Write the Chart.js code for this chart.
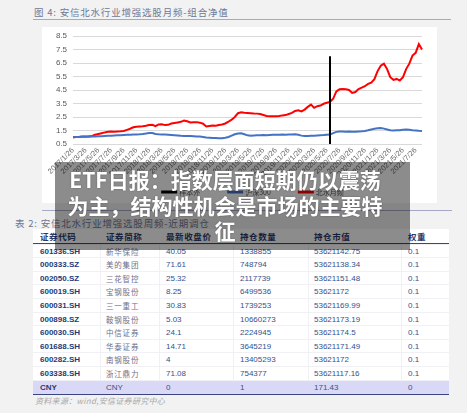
<!DOCTYPE html>
<html><head><meta charset="utf-8">
<script src="https://cdn.jsdelivr.net/npm/chart.js@4.4.1/dist/chart.umd.min.js"></script>
<style>
html,body{margin:0;padding:0;}
body{width:467px;height:413px;overflow:hidden;background:#f2f2f2;position:relative;font-family:"Noto Sans CJK SC","Liberation Sans",sans-serif;}
.abs{position:absolute;}
.cap{font-size:9.5px;letter-spacing:0.8px;color:#6f7895;white-space:nowrap;line-height:12px;}
.rule{height:1px;background:#a6a8c6;}
#card{left:42px;top:27px;width:395px;height:176px;background:#fff;}
#tbl{left:33px;top:229px;width:416px;height:164px;background:#fff;}
.row{position:absolute;left:0;width:416px;}
.row span{position:absolute;top:0;white-space:nowrap;}
.hd{top:0;height:14px;line-height:14px;border-bottom:1px solid #3b4680;}
.hd span{font-size:8.5px;font-weight:bold;color:#2c3a6c;letter-spacing:0.6px;}
.dr{height:13.6px;line-height:13.6px;border-top:1px solid #f0f0f5;box-sizing:border-box;font-family:"Liberation Sans",Arial,sans-serif;font-size:8px;color:#34508c;}
.dr .c{font-weight:bold;color:#223b78;}
.dr .n{font-family:"Noto Sans CJK SC",sans-serif;font-size:7.5px;color:#6f6f88;letter-spacing:0.8px;}
.dr.cny{background:#d9d9f7;border-bottom:1.5px solid #3b4680;height:15px;}
.vl{position:absolute;top:15px;width:1px;height:149px;background:#f0f0f5;}
#src{left:35px;top:395px;font-size:8px;font-style:italic;color:#a8a8a8;letter-spacing:0.3px;white-space:nowrap;}
#ov{left:55px;top:162px;width:355px;height:88px;background:rgba(0,0,0,0.45);}
#ovt{left:64px;top:167px;width:322px;text-align:center;font-family:"Noto Sans CJK SC",sans-serif;font-weight:bold;font-size:21px;line-height:25.5px;color:#fff;text-shadow:0 0 2px rgba(0,0,0,0.35);}
</style></head>
<body>
<div class="abs cap" style="left:34px;top:6px;">图 4: 安信北水行业增强选股月频-组合净值</div>
<div class="abs rule" style="left:33px;top:19px;width:418px;"></div>
<div id="card" class="abs"><canvas id="c" width="395" height="176"></canvas></div>
<div class="abs rule" style="left:42px;top:210px;width:410px;"></div>
<div class="abs cap" style="left:15px;top:217px;">表 2: 安信北水行业增强选股周频-近期调仓</div>
<div id="tbl" class="abs"></div>
<div id="src" class="abs">资料来源：wind,安信证券研究中心</div>
<div id="ov" class="abs"></div>
<div id="ovt" class="abs">ETF日报：指数层面短期仍以震荡为主，结构性机会是市场的主要特征</div>
<script>
// ---- chart data ----
const tickLabels = ['2017/1/26','2017/3/26','2017/5/26','2017/7/26','2017/9/26','2017/11/26',
 '2018/1/26','2018/3/26','2018/5/26','2018/7/26','2018/9/26','2018/11/26',
 '2019/1/26','2019/3/26','2019/5/26','2019/7/26','2019/9/26','2019/11/26',
 '2020/1/26','2020/3/26','2020/5/26','2020/7/26','2020/9/26','2020/11/26',
 '2021/1/26','2021/3/26','2021/5/26','2021/7/26'];
const seriesNames = ['样本外','沪深300','北水月频'];
// half-monthly readings (26th and 11th of each month), from 2017/1/26 to 2021/8/26
const redValues = [
 1.00,1.02,1.03,1.05,1.05,1.07,1.10,1.18,1.24,1.30,
 1.36,1.40,1.42,1.41,1.43,1.44,1.47,1.55,1.63,1.74,
 1.78,1.80,1.82,1.85,1.90,1.92,1.82,1.95,1.96,1.90,
 1.92,2.02,2.06,2.10,2.14,2.24,2.18,2.10,2.12,2.12,
 2.08,2.00,1.80,1.84,1.87,1.85,1.90,1.95,2.02,2.15,
 2.30,2.50,2.78,2.85,2.82,2.80,2.78,2.76,2.75,2.72,
 2.65,2.58,2.55,2.56,2.55,2.58,2.62,2.64,2.72,2.80,
 2.95,3.00,2.92,3.05,3.25,3.42,3.18,3.30,3.35,3.48,
 3.55,3.62,3.85,4.40,4.55,4.58,4.55,4.50,4.28,4.35,
 4.57,4.68,4.78,4.95,5.05,5.30,5.90,6.30,6.45,6.05,
 5.45,5.25,5.32,5.20,5.45,6.05,6.45,7.05,7.25,7.90,7.50];
const blueValues = [
 1.00,1.01,1.02,1.03,1.03,1.04,1.05,1.06,1.07,1.08,
 1.10,1.11,1.12,1.13,1.14,1.15,1.17,1.18,1.19,1.20,
 1.21,1.22,1.24,1.27,1.31,1.32,1.24,1.22,1.21,1.20,
 1.19,1.17,1.15,1.13,1.11,1.10,1.10,1.09,1.08,1.06,
 1.05,1.02,0.98,0.97,0.95,0.94,0.93,0.92,0.96,1.02,
 1.12,1.22,1.28,1.30,1.22,1.14,1.12,1.13,1.14,1.15,
 1.16,1.15,1.17,1.18,1.18,1.19,1.20,1.19,1.20,1.21,
 1.22,1.18,1.12,1.10,1.10,1.12,1.11,1.13,1.15,1.16,
 1.18,1.20,1.30,1.40,1.43,1.42,1.41,1.42,1.41,1.40,
 1.42,1.44,1.47,1.52,1.58,1.63,1.66,1.68,1.64,1.58,
 1.52,1.50,1.51,1.52,1.56,1.58,1.55,1.52,1.50,1.48,1.47];
const outSampleDate = '2020/6/11';
const outSampleValues = [0.5, 7.0];

// ---- table data ----
const codes = ['601336.SH','000333.SZ','002050.SZ','600019.SH','600031.SH','000898.SZ','600030.SH','601688.SH','600282.SH','603338.SH','CNY'];
const names = ['新华保险','美的集团','三花智控','宝钢股份','三一重工','鞍钢股份','中信证券','华泰证券','南钢股份','浙江鼎力','CNY'];
const prices = ['40.05','71.61','25.32','8.25','30.83','5.03','24.1','14.71','4','71.08','0'];
const holdings = ['1338855','748794','2117739','6499536','1739253','10660273','2224945','3645219','13405293','754377','1'];
const mktValues = ['53621142.75','53621138.34','53621151.48','53621172','53621169.99','53621173.19','53621174.5','53621171.49','53621172','53621117.16','171.43'];
const weights = ['0.1','0.1','0.1','0.1','0.1','0.1','0.1','0.1','0.1','0.1','0'];
const headers = ['证券代码','证券简称','最新收盘价','持仓数量','持仓市值','权重'];

// build table (layout only)
(function(){
  const tb = document.getElementById('tbl');
  const colX = [7,73,133,207,281,375];
  const borders = [67,126,200,275,368];
  let h = '';
  borders.forEach(b=>{ h += '<div class="vl" style="left:'+b+'px"></div>'; });
  h += '<div class="row hd">' + headers.map((t,i)=>'<span style="left:'+colX[i]+'px">'+t+'</span>').join('') + '</div>';
  for (let i=0;i<codes.length;i++){
    const cny = codes[i]==='CNY';
    const cells = [codes[i], names[i], prices[i], holdings[i], mktValues[i], weights[i]];
    const cls = ['c', cny?'':'n', '', '', '', ''];
    h += '<div class="row dr'+(cny?' cny':'')+'" style="top:'+(14.5+13.6*i).toFixed(1)+'px">'
      + cells.map((t,k)=>'<span class="'+cls[k]+'" style="left:'+colX[k]+'px">'+t+'</span>').join('') + '</div>';
  }
  tb.innerHTML = h;
})();

// categories: 26th and 11th of each month
const categories = [];
for (let i=0;i<redValues.length;i++){
  const m = Math.floor(i/2) + (i%2);
  const y = 2017 + Math.floor(m/12);
  const mo = (m%12)+1;
  categories.push(y+'/'+mo+'/'+(i%2? '11':'26'));
}

// bottom legend drawn below the axis labels
const bottomLegend = {
  id:'bottomLegend',
  afterDraw(chart){
    const ctx = chart.ctx;
    ctx.save();
    ctx.font = '7px "Noto Sans CJK SC"';
    ctx.textBaseline = 'middle';
    const seg = 16, gap = 2, sp = 27;
    const ds = chart.data.datasets;
    const widths = ds.map(d => seg + gap + ctx.measureText(d.label).width);
    const total = widths.reduce((a,b)=>a+b,0) + sp*(ds.length-1);
    let x = (chart.chartArea.left + chart.chartArea.right)/2 + 5 - total/2;
    const y = chart.chartArea.bottom + 48;
    ds.forEach((d,i)=>{
      ctx.strokeStyle = d.borderColor; ctx.lineWidth = 3;
      ctx.beginPath(); ctx.moveTo(x, y); ctx.lineTo(x+seg, y); ctx.stroke();
      ctx.fillStyle = '#595959';
      ctx.fillText(d.label, x+seg+gap, y);
      x += widths[i] + sp;
    });
    ctx.restore();
  }
};

const tickFont = {family:'Liberation Sans', size:7.5};
new Chart(document.getElementById('c'), {
  type:'line',
  data:{
    labels: categories,
    datasets:[
      {label:seriesNames[0], data: outSampleValues.map(v=>({x:outSampleDate,y:v})), borderColor:'#000', backgroundColor:'#000', borderWidth:2, pointRadius:0},
      {label:seriesNames[1], data: blueValues, borderColor:'#4472c4', backgroundColor:'#4472c4', borderWidth:2, pointRadius:0, tension:0},
      {label:seriesNames[2], data: redValues, borderColor:'#ff0000', backgroundColor:'#ff0000', borderWidth:2, pointRadius:0, tension:0}
    ]
  },
  options:{
    responsive:false, animation:false,
    layout:{padding:{left:0,right:15,top:9,bottom:0}},
    plugins:{ tooltip:{enabled:false}, legend:{display:false} },
    scales:{
      x:{
        grid:{display:false, drawTicks:false}, border:{display:false},
        ticks:{autoSkip:false, minRotation:45, maxRotation:45, padding:2, color:'#6a6a6a', font:tickFont,
          callback(v){ const l = this.getLabelForValue(v); return tickLabels.includes(l) ? l : ''; }},
        afterFit(s){ s.height = 59; }
      },
      y:{
        min:0.5, max:8.5,
        grid:{color:'#d9d9d9', drawTicks:false}, border:{display:false},
        ticks:{stepSize:1, padding:6, color:'#595959', font:{family:'Liberation Sans', size:8, lineHeight:0.6}, callback:v=>v.toFixed(1)},
        afterFit(s){ s.width = 31; }
      }
    }
  },
  plugins:[bottomLegend]
});
</script>
</body></html>
